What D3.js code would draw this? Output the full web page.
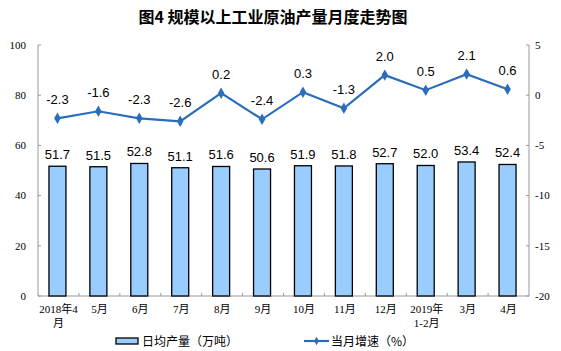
<!DOCTYPE html>
<html>
<head>
<meta charset="utf-8">
<script src="https://cdn.jsdelivr.net/npm/d3@7"></script>
<style>
  body { margin: 0; background: #fff; }
  .tick-label { font-family: "Liberation Serif", "Times New Roman", "Noto Sans CJK SC", serif; font-size: 11px; fill: #000; }
  .cat-label { font-family: "Liberation Serif", "Noto Sans CJK SC", serif; font-size: 11px; fill: #000; }
  .val-label { font-family: "Liberation Sans", Arial, sans-serif; font-size: 13px; fill: #000; }
  .title { font-family: "Noto Sans CJK SC", sans-serif; font-size: 16px; font-weight: 600; }
  .legend { font-family: "Noto Sans CJK SC", sans-serif; font-size: 12px; }
</style>
</head>
<body>
<div id="chart"></div>
<script>
// chart data
const categories = ["2018年4月", "5月", "6月", "7月", "8月", "9月", "10月", "11月", "12月", "2019年1-2月", "3月", "4月"];
const catLines = [["2018年4", "月"], ["5月"], ["6月"], ["7月"], ["8月"], ["9月"], ["10月"], ["11月"], ["12月"], ["2019年", "1-2月"], ["3月"], ["4月"]];
const dailyOutput = [51.7, 51.5, 52.8, 51.1, 51.6, 50.6, 51.9, 51.8, 52.7, 52.0, 53.4, 52.4];
const growthRate = [-2.3, -1.6, -2.3, -2.6, 0.2, -2.4, 0.3, -1.3, 2.0, 0.5, 2.1, 0.6];
const leftTicks = [0, 20, 40, 60, 80, 100];
const rightTicks = [-20, -15, -10, -5, 0, 5];

const W = 561, H = 351;
const margin = {top: 45, right: 32, bottom: 55, left: 38};
const width = W - margin.left - margin.right;
const height = H - margin.top - margin.bottom;

const svg = d3.select("#chart").append("svg")
  .attr("width", W).attr("height", H);

svg.append("text").attr("class", "title")
  .attr("x", 273).attr("y", 23)
  .attr("text-anchor", "middle")
  .text("图4 规模以上工业原油产量月度走势图");

const g = svg.append("g").attr("transform", `translate(${margin.left},${margin.top})`);

const x = d3.scaleBand().domain(categories).range([0, width]);
const yL = d3.scaleLinear().domain([0, 100]).range([height, 0]);
const yR = d3.scaleLinear().domain([-20, 5]).range([height, 0]);

const axisColor = "#999";

// left axis
g.append("line").attr("x1", 0).attr("x2", 0).attr("y1", 0).attr("y2", height).attr("stroke", axisColor);
leftTicks.forEach(t => {
  g.append("line").attr("x1", 0).attr("x2", 3).attr("y1", yL(t)).attr("y2", yL(t)).attr("stroke", axisColor);
  g.append("text").attr("class", "tick-label")
    .attr("x", -12).attr("y", yL(t)).attr("dy", "0.35em")
    .attr("text-anchor", "end").text(t);
});

// right axis
g.append("line").attr("x1", width).attr("x2", width).attr("y1", 0).attr("y2", height).attr("stroke", axisColor);
rightTicks.forEach(t => {
  g.append("line").attr("x1", width - 3).attr("x2", width).attr("y1", yR(t)).attr("y2", yR(t)).attr("stroke", axisColor);
  g.append("text").attr("class", "tick-label")
    .attr("x", width + 6).attr("y", yR(t)).attr("dy", "0.35em")
    .attr("text-anchor", "start").text(t);
});

// x axis
g.append("line").attr("x1", 0).attr("x2", width).attr("y1", height).attr("y2", height).attr("stroke", axisColor);
categories.forEach((c, i) => {
  if (i > 0) {
    g.append("line").attr("x1", x(c)).attr("x2", x(c)).attr("y1", height - 3).attr("y2", height).attr("stroke", axisColor);
  }
  catLines[i].forEach((ln, j) => {
    g.append("text").attr("class", "cat-label")
      .attr("x", x(c) + x.bandwidth() / 2)
      .attr("y", height + 17 + j * 14)
      .attr("text-anchor", "middle").text(ln);
  });
});

// bars
const barW = 17;
g.selectAll("rect.bar").data(dailyOutput).enter().append("rect")
  .attr("class", "bar")
  .attr("x", (d, i) => x(categories[i]) + x.bandwidth() / 2 - barW / 2 - 1)
  .attr("y", d => yL(d))
  .attr("width", barW)
  .attr("height", d => height - yL(d))
  .attr("fill", "#99ccff")
  .attr("stroke", "#000")
  .attr("stroke-width", 1.3);

g.selectAll("text.bar-val").data(dailyOutput).enter().append("text")
  .attr("class", "val-label")
  .attr("x", (d, i) => x(categories[i]) + x.bandwidth() / 2 - 1)
  .attr("y", d => yL(d) - 7)
  .attr("text-anchor", "middle")
  .text(d => d.toFixed(1));

// line
const lineColor = "#2a6ebb";
const line = d3.line()
  .x((d, i) => x(categories[i]) + x.bandwidth() / 2 - 1)
  .y(d => yR(d));

g.append("path").datum(growthRate)
  .attr("d", line)
  .attr("fill", "none")
  .attr("stroke", lineColor)
  .attr("stroke-width", 2.2);

const diamond = d3.symbol().type(d3.symbolDiamond).size(38);
g.selectAll("path.marker").data(growthRate).enter().append("path")
  .attr("class", "marker")
  .attr("d", diamond)
  .attr("transform", (d, i) => `translate(${x(categories[i]) + x.bandwidth() / 2 - 1},${yR(d)})`)
  .attr("fill", lineColor);

g.selectAll("text.line-val").data(growthRate).enter().append("text")
  .attr("class", "val-label")
  .attr("x", (d, i) => x(categories[i]) + x.bandwidth() / 2 - 1)
  .attr("y", d => yR(d) - 14)
  .attr("text-anchor", "middle")
  .text(d => d.toFixed(1));

// legend
const lg = svg.append("g").attr("class", "legend");
lg.append("rect").attr("x", 116).attr("y", 338).attr("width", 22).attr("height", 6)
  .attr("fill", "#99ccff").attr("stroke", "#000").attr("stroke-width", 1.3);
lg.append("text").attr("x", 142).attr("y", 345.5).text("日均产量（万吨）");
lg.append("line").attr("x1", 304).attr("x2", 329).attr("y1", 341).attr("y2", 341)
  .attr("stroke", lineColor).attr("stroke-width", 2.2);
lg.append("path").attr("d", d3.symbol().type(d3.symbolDiamond).size(20)).attr("transform", "translate(316.5,341)").attr("fill", lineColor);
lg.append("text").attr("x", 331).attr("y", 345.5).text("当月增速（%）");
</script>
</body>
</html>
